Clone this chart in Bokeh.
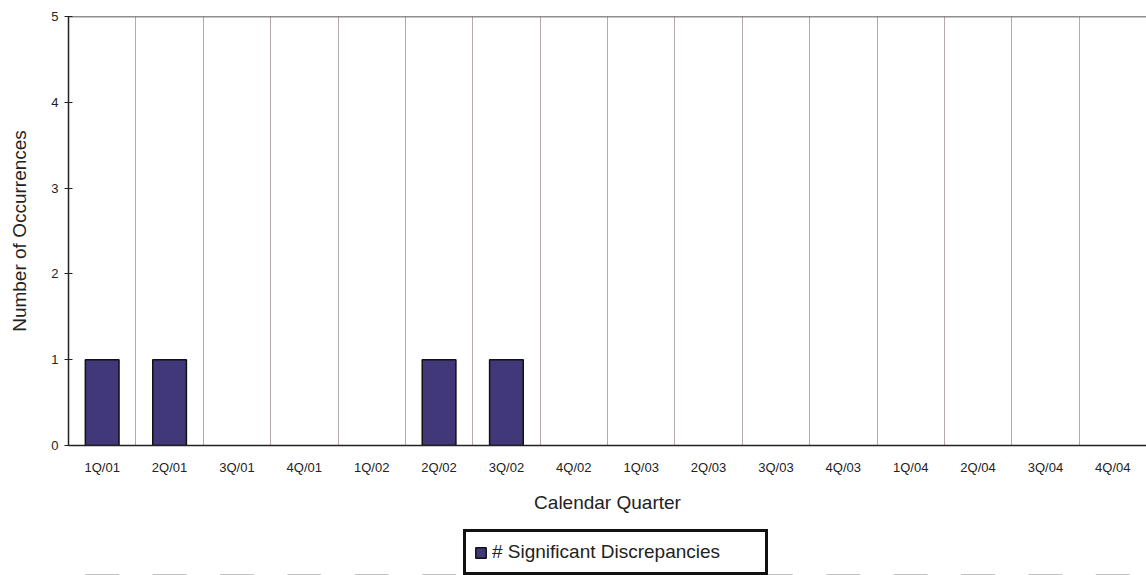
from bokeh.plotting import figure
from bokeh.layouts import column
from bokeh.models import FactorRange, Range1d, FixedTicker, Legend, LegendItem
from bokeh.embed import file_html
from bokeh.resources import INLINE

quarters = ["1Q/01", "2Q/01", "3Q/01", "4Q/01", "1Q/02", "2Q/02", "3Q/02", "4Q/02",
            "1Q/03", "2Q/03", "3Q/03", "4Q/03", "1Q/04", "2Q/04", "3Q/04", "4Q/04"]
discrepancies = [1, 1, 0, 0, 0, 1, 1, 0, 0, 0, 0, 0, 0, 0, 0, 0]
y_ticks = [0, 1, 2, 3, 4, 5]
series_name = "# Significant Discrepancies"

FONT = "Liberation Sans"
BAR_FILL = "#403878"
BAR_LINE = "#111111"

p = figure(width=1146, height=515, output_backend="svg", toolbar_location=None,
           x_range=FactorRange(*quarters, range_padding=0),
           y_range=Range1d(0, 5),
           min_border_left=68, min_border_top=16, min_border_right=0, min_border_bottom=0)
p.outline_line_color = None

bar_lines = [BAR_LINE if v > 0 else None for v in discrepancies]
r = p.vbar(x=quarters, top=discrepancies, width=0.5, fill_color=BAR_FILL,
           line_color=bar_lines, line_width=1.5)

# top border line
p.line(x=[0, len(quarters)], y=[5, 5], line_color="#222222", line_width=1.5)

p.xgrid.ticker = FixedTicker(ticks=list(range(1, len(quarters))))
p.xgrid.grid_line_color = "#b8a8a8"
p.xgrid.grid_line_width = 1
p.ygrid.grid_line_color = None

p.yaxis.ticker = FixedTicker(ticks=y_ticks)
p.yaxis.axis_label = "Number of Occurrences"
p.xaxis.axis_label = "Calendar Quarter"
for ax in (p.xaxis, p.yaxis):
    ax.axis_line_color = "#222222"
    ax.axis_line_width = 1.5
    ax.major_label_text_font = FONT
    ax.major_label_text_font_size = "13px"
    ax.major_label_text_color = "#222222"
    ax.axis_label_text_font = FONT
    ax.axis_label_text_font_size = "19px"
    ax.axis_label_text_font_style = "normal"
    ax.axis_label_text_color = "#222222"
    ax.minor_tick_line_color = None
p.yaxis.major_tick_in = 4
p.yaxis.major_tick_out = 4
p.yaxis.major_tick_line_color = "#222222"
p.yaxis.major_label_standoff = 6
p.yaxis.axis_label_standoff = 18
p.xaxis.major_tick_line_color = None
p.xaxis.major_tick_in = 0
p.xaxis.major_tick_out = 0
p.xaxis.major_label_standoff = 14
p.xaxis.axis_label_standoff = 14

# legend strip below the chart (its bars lie outside its visible y range)
lg = figure(width=1146, height=60, output_backend="svg", toolbar_location=None,
            x_range=FactorRange(*quarters, range_padding=0), y_range=Range1d(10, 11),
            min_border_left=68, min_border_top=0, min_border_right=0, min_border_bottom=0)
lg.axis.visible = False
lg.grid.visible = False
lg.outline_line_color = None
lg_r = lg.vbar(x=quarters, top=discrepancies, width=0.5, fill_color=BAR_FILL,
               line_color=BAR_LINE, line_width=1.5)

legend = Legend(items=[LegendItem(label=series_name, renderers=[lg_r], index=0)],
                location=(395, 0), orientation="vertical",
                border_line_color="#111111", border_line_width=3, border_line_alpha=1,
                label_text_font=FONT, label_text_font_size="19px", label_text_color="#222222",
                glyph_width=13, glyph_height=13, padding=8, margin=0, label_standoff=5,
                label_width=265, label_height=24,
                background_fill_color="white", background_fill_alpha=1)
lg.add_layout(legend, "center")

layout = column(p, lg, spacing=0)
open("out.html", "w").write(file_html(layout, INLINE))
